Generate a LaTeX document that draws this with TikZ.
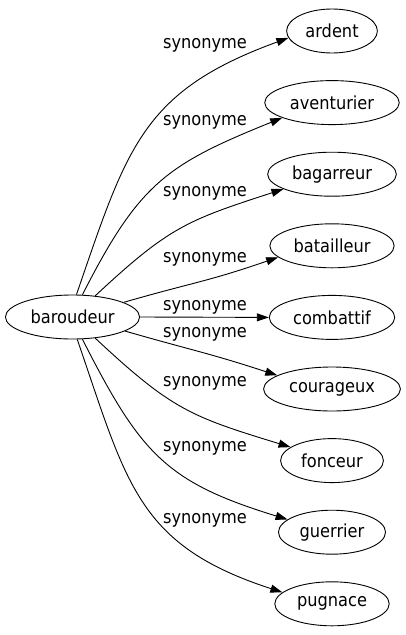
\documentclass[tikz,border=0pt]{standalone}
\usepackage{fontspec}
\setmainfont[FakeStretch=0.9]{DejaVu Sans}
\usepackage{tikz}
\usetikzlibrary{shapes.geometric,arrows.meta,positioning}
\tikzset{>={Triangle[length=12pt,width=8pt]}}

\begin{document}
\begin{tikzpicture}[x=1pt,y=1pt,
                          word/.style={draw, ellipse, line width=0.9pt, inner xsep=5.5pt, minimum height=44pt, font=\fontsize{18}{20}\selectfont},
                          syn/.style={font=\fontsize{18}{20}\selectfont},
                          link/.style={line width=0.9pt, ->, looseness=1.2},
                         ]

\useasboundingbox (0,0) rectangle (406,-635);

\node[word] (bar) at (72.5,-317) {baroudeur};

\node[word] (ardent) at (332,-31) {ardent};
\node[word] (aventurier) at (332,-102.6) {aventurier};
\node[word] (bagarreur) at (332,-174.2) {bagarreur};
\node[word] (batailleur) at (332,-245.8) {batailleur};
\node[word] (combattif) at (332,-317.4) {combattif};
\node[word] (courageux) at (332,-389) {courageux};
\node[word] (fonceur) at (332,-460.6) {fonceur};
\node[word] (guerrier) at (332,-532.2) {guerrier};
\node[word] (pugnace) at (332,-603.8) {pugnace};

\draw[link] (bar.80) to[out=71,in=200] (ardent.189);
\draw[link] (bar.66) to[out=63,in=202] (aventurier.197);
\draw[link] (bar.43) to[out=43,in=198] (bagarreur.197);
\draw[link] (bar.16) to[out=16,in=199] (batailleur.192);
\draw[link] (bar.east) -- (combattif.west);
\draw[link] (bar.-15) to[out=-16,in=162] (courageux.166);
\draw[link] (bar.-43) to[out=-43,in=163] (fonceur.162);
\draw[link] (bar.-66) to[out=-63,in=163] (guerrier.164);
\draw[link] (bar.-78) to[out=-71,in=162] (pugnace.167);

\node[syn] (s1) at (205,-45) {synonyme};
\node[syn] (s2) at (205,-122) {synonyme};
\node[syn] (s3) at (205,-193) {synonyme};
\node[syn] (s4) at (205,-259) {synonyme};
\node[syn] (s5) at (205,-307) {synonyme};
\node[syn] (s6) at (205,-334) {synonyme};
\node[syn] (s7) at (205,-383) {synonyme};
\node[syn] (s8) at (205,-448) {synonyme};
\node[syn] (s9) at (205,-520) {synonyme};

\end{tikzpicture}
\end{document}
